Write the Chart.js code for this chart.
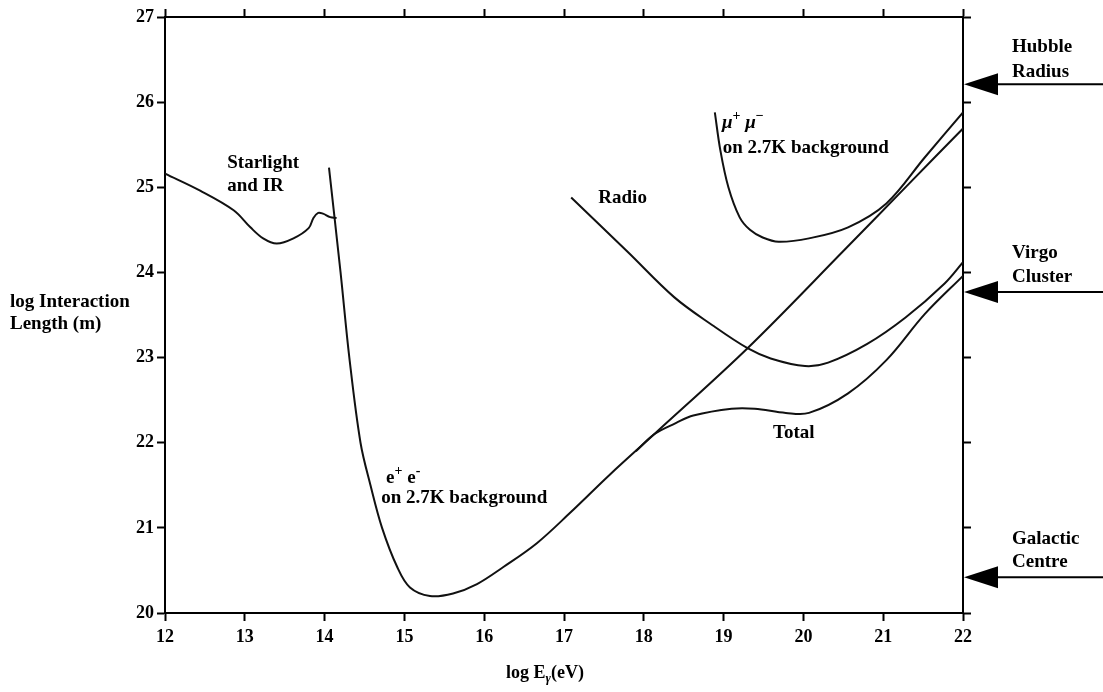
<!DOCTYPE html>
<html>
<head>
<meta charset="utf-8">
<script src="https://cdn.jsdelivr.net/npm/chart.js@4.4.1/dist/chart.umd.min.js"></script>
<style>
  html, body { margin: 0; padding: 0; background: #fff; }
  canvas { display: block; }
</style>
</head>
<body>
<canvas id="chart" width="1103" height="692"></canvas>
<script>
// values: log E (eV) -> log interaction length (m)
const starlightX = [12.0, 12.44, 12.86, 13.07, 13.23, 13.40, 13.61, 13.80, 13.86, 13.92, 13.98, 14.07, 14.15];
const starlightY = [25.16, 24.96, 24.73, 24.53, 24.40, 24.34, 24.40, 24.52, 24.64, 24.70, 24.69, 24.65, 24.64];

const pairX = [14.055, 14.20, 14.31, 14.45, 14.575, 14.72, 14.91, 15.07, 15.32, 15.61, 15.91, 16.24, 16.66, 17.08, 17.58, 18.13, 19.30, 20.51, 21.30, 22.0];
const pairY = [25.23, 24.00, 23.00, 22.00, 21.50, 21.00, 20.54, 20.30, 20.20, 20.23, 20.34, 20.54, 20.82, 21.18, 21.63, 22.10, 23.11, 24.26, 25.02, 25.69];

const radioX = [17.09, 17.80, 18.38, 18.86, 19.30, 19.59, 20.02, 20.31, 20.80, 21.28, 21.77, 22.0];
const radioY = [24.88, 24.24, 23.71, 23.38, 23.11, 22.99, 22.90, 22.94, 23.16, 23.47, 23.87, 24.12];

const muonX = [18.89, 18.96, 19.06, 19.20, 19.33, 19.49, 19.69, 20.07, 20.56, 21.04, 21.52, 22.0];
const muonY = [25.88, 25.43, 25.00, 24.65, 24.50, 24.41, 24.36, 24.40, 24.53, 24.81, 25.35, 25.88];

const totalX = [17.90, 18.13, 18.40, 18.62, 19.10, 19.39, 19.78, 20.07, 20.56, 21.04, 21.52, 22.0];
const totalY = [21.90, 22.10, 22.23, 22.32, 22.40, 22.40, 22.35, 22.35, 22.58, 22.97, 23.51, 23.96];

const arrowLevels = [26.21, 23.77, 20.42];
const arrowNames = [['Hubble', 'Radius'], ['Virgo', 'Cluster'], ['Galactic', 'Centre']];

const FONT = '"Liberation Serif", "Times New Roman", serif';
const SIZE = 19;
const TICK_SIZE = 18;

function pts(xs, ys) {
  return xs.map((x, i) => ({ x: x, y: ys[i] }));
}

function curve(xs, ys) {
  return {
    data: pts(xs, ys),
    showLine: true,
    borderColor: '#111',
    borderWidth: 2,
    pointRadius: 0,
    tension: 0.35,
    xAxisID: 'x',
    yAxisID: 'y'
  };
}

// labels placed in data coordinates
const curveLabels = [
  { x: 12.78, y: 25.29, parts: [{ t: 'Starlight' }] },
  { x: 12.78, y: 25.01, parts: [{ t: 'and IR' }] },
  { x: 17.43, y: 24.87, parts: [{ t: 'Radio' }] },
  { x: 18.98, y: 25.75, parts: [{ t: 'μ', it: true }, { t: '+', sup: true }, { t: ' ' }, { t: 'μ', it: true }, { t: '−', sup: true }] },
  { x: 18.99, y: 25.46, parts: [{ t: 'on 2.7K background' }] },
  { x: 14.77, y: 21.58, parts: [{ t: 'e' }, { t: '+', sup: true }, { t: ' e' }, { t: '-', sup: true }] },
  { x: 14.71, y: 21.35, parts: [{ t: 'on 2.7K background' }] },
  { x: 19.62, y: 22.11, parts: [{ t: 'Total' }] }
];

function richText(ctx, x, y, parts, align, size) {
  size = size || SIZE;
  const fontOf = p => (p.it ? 'italic ' : '') + 'bold ' + (p.sup || p.sub ? Math.round(size * 0.72) : size) + 'px ' + FONT;
  let w = 0;
  parts.forEach(p => { ctx.font = fontOf(p); w += ctx.measureText(p.t).width; });
  let cx = align === 'center' ? x - w / 2 : x;
  ctx.textAlign = 'left';
  ctx.textBaseline = 'middle';
  parts.forEach(p => {
    ctx.font = fontOf(p);
    const dy = p.sup ? -size * 0.38 : p.sub ? size * 0.32 : 0;
    ctx.fillText(p.t, cx, y + dy);
    cx += ctx.measureText(p.t).width;
  });
}

const decorations = {
  id: 'decorations',
  afterDraw(chart) {
    const ctx = chart.ctx;
    const xs = chart.scales.x, ys = chart.scales.y;
    const area = chart.chartArea;
    ctx.save();
    ctx.fillStyle = '#000';
    ctx.strokeStyle = '#000';

    curveLabels.forEach(l => {
      richText(ctx, xs.getPixelForValue(l.x), ys.getPixelForValue(l.y), l.parts, 'left');
    });

    // axis titles
    richText(ctx, 10, 302, [{ t: 'log Interaction' }], 'left');
    richText(ctx, 10, 324, [{ t: 'Length (m)' }], 'left');
    richText(ctx, 545, 673, [{ t: 'log E' }, { t: 'γ', it: true, sub: true }, { t: '(eV)' }], 'center', 18);

    // distance markers on the right
    const offsets = [[-37, -12], [-39, -15], [-38, -15]];
    arrowLevels.forEach((v, i) => {
      const py = ys.getPixelForValue(v);
      const tip = area.right + 1;
      ctx.beginPath();
      ctx.moveTo(tip, py);
      ctx.lineTo(tip + 34, py - 11);
      ctx.lineTo(tip + 34, py + 11);
      ctx.closePath();
      ctx.fill();
      ctx.lineWidth = 2;
      ctx.beginPath();
      ctx.moveTo(tip + 30, py);
      ctx.lineTo(chart.width, py);
      ctx.stroke();
      richText(ctx, 1012, py + offsets[i][0], [{ t: arrowNames[i][0] }], 'left');
      richText(ctx, 1012, py + offsets[i][1], [{ t: arrowNames[i][1] }], 'left');
    });
    ctx.restore();
  }
};

Chart.defaults.color = '#000';
Chart.defaults.font.family = FONT;

function axis(position, min, max, size, showLabels) {
  const horizontal = position === 'top' || position === 'bottom';
  return {
    type: 'linear',
    position: position,
    min: min,
    max: max,
    ticks: {
      display: showLabels,
      stepSize: 1,
      font: { size: TICK_SIZE, weight: 'bold', family: FONT },
      color: '#000',
      padding: horizontal ? 6 : 3
    },
    grid: {
      display: true,
      drawOnChartArea: false,
      drawTicks: true,
      tickLength: 8,
      tickColor: '#000',
      tickWidth: 2
    },
    border: { display: true, color: '#000', width: 2 },
    afterFit: s => {
      if (horizontal) s.height = size; else s.width = size;
    }
  };
}

new Chart(document.getElementById('chart').getContext('2d'), {
  type: 'scatter',
  data: {
    datasets: [
      curve(starlightX, starlightY),
      curve(pairX, pairY),
      curve(radioX, radioY),
      curve(muonX, muonY),
      curve(totalX, totalY)
    ]
  },
  options: {
    responsive: false,
    animation: false,
    layout: { padding: 0 },
    plugins: {
      legend: { display: false },
      tooltip: { enabled: false }
    },
    scales: {
      x: axis('bottom', 12, 22, 79, true),
      x2: axis('top', 12, 22, 17, false),
      y: axis('left', 20, 27, 165, true),
      y2: axis('right', 20, 27, 140, false)
    }
  },
  plugins: [decorations]
});
</script>
</body>
</html>
